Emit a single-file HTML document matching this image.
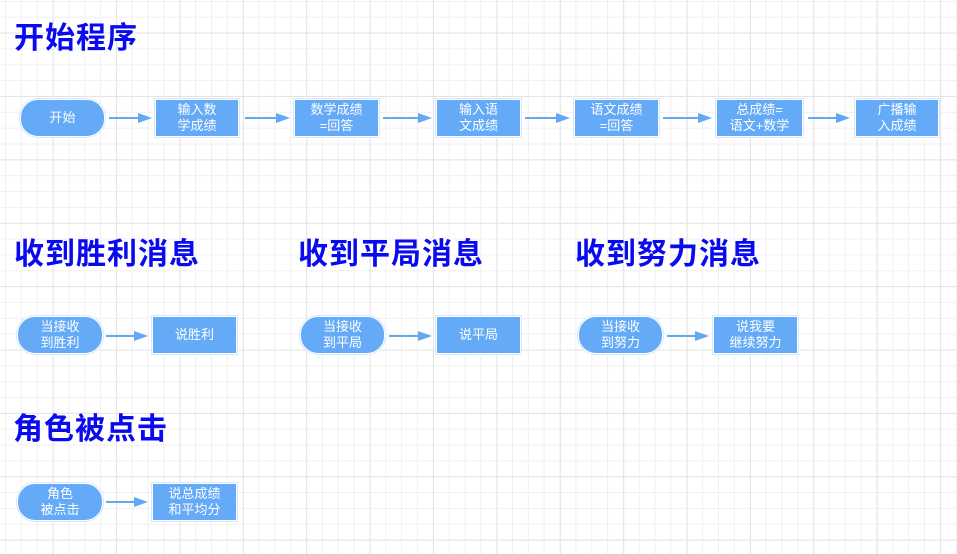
<!DOCTYPE html>
<html><head><meta charset="utf-8"><style>
body{margin:0;width:957px;height:554px;overflow:hidden;position:relative;background-color:#fff;
background-image:linear-gradient(to right,#e4e4e4 1px,transparent 1px),linear-gradient(to bottom,#e4e4e4 1px,transparent 1px),linear-gradient(to right,#f0f0f0 1px,transparent 1px),linear-gradient(to bottom,#f0f0f0 1px,transparent 1px);
background-size:63.4px 63.4px,63.4px 63.4px,15.85px 15.85px,15.85px 15.85px;
background-position:52.7px 0,0 32.6px,5px 0,0 0.9px;
font-family:"Liberation Sans","Noto Sans CJK SC",sans-serif;}
.t{position:absolute;color:#0a0af0;font-weight:bold;font-size:30px;line-height:30px;letter-spacing:1px;white-space:nowrap}
.n{position:absolute;background:#64aaf7;border:1px solid #fff;box-shadow:0 0 0 1px #d8e8fb;color:#fff;font-size:13px;line-height:16px;display:flex;align-items:center;justify-content:center;text-align:center;box-sizing:border-box}
.p{border-radius:18px}
svg{position:absolute;left:0;top:0}
</style></head><body>
<div class="t" style="left:14px;top:24px">开始程序</div>
<div class="t" style="left:14px;top:240px">收到胜利消息</div>
<div class="t" style="left:298px;top:240px">收到平局消息</div>
<div class="t" style="left:575px;top:240px">收到努力消息</div>
<div class="t" style="left:13px;top:415px">角色被点击</div>

<div class="n p" style="left:20px;top:99px;width:85px;height:38px">开始</div>
<div class="n" style="left:155px;top:99px;width:84px;height:38px">输入数<br>学成绩</div>
<div class="n" style="left:294px;top:99px;width:85px;height:38px">数学成绩<br>=回答</div>
<div class="n" style="left:436px;top:99px;width:85px;height:38px">输入语<br>文成绩</div>
<div class="n" style="left:574px;top:99px;width:85px;height:38px">语文成绩<br>=回答</div>
<div class="n" style="left:716px;top:99px;width:87px;height:38px">总成绩=<br>语文+数学</div>
<div class="n" style="left:855px;top:99px;width:84px;height:38px">广播输<br>入成绩</div>

<div class="n p" style="left:17px;top:316px;width:86px;height:38px">当接收<br>到胜利</div>
<div class="n" style="left:152px;top:316px;width:85px;height:38px">说胜利</div>
<div class="n p" style="left:300px;top:316px;width:85px;height:38px">当接收<br>到平局</div>
<div class="n" style="left:436px;top:316px;width:85px;height:38px">说平局</div>
<div class="n p" style="left:578px;top:316px;width:85px;height:38px">当接收<br>到努力</div>
<div class="n" style="left:713px;top:316px;width:85px;height:38px">说我要<br>继续努力</div>

<div class="n p" style="left:17px;top:483px;width:86px;height:38px">角色<br>被点击</div>
<div class="n" style="left:152px;top:483px;width:85px;height:38px">说总成绩<br>和平均分</div>

<svg width="957" height="554">
<g stroke="#64a8f5" stroke-width="2" fill="#64a8f5">
<line x1="109" y1="118" x2="140" y2="118"/><polygon points="138,113 152,118 138,123" stroke="none"/>
<line x1="245" y1="118" x2="278" y2="118"/><polygon points="276,113 290,118 276,123" stroke="none"/>
<line x1="383" y1="118" x2="420" y2="118"/><polygon points="418,113 432,118 418,123" stroke="none"/>
<line x1="525" y1="118" x2="558" y2="118"/><polygon points="556,113 570,118 556,123" stroke="none"/>
<line x1="663" y1="118" x2="700" y2="118"/><polygon points="698,113 712,118 698,123" stroke="none"/>
<line x1="808" y1="118" x2="838" y2="118"/><polygon points="836,113 850,118 836,123" stroke="none"/>
<line x1="106" y1="336" x2="136" y2="336"/><polygon points="134,331 148,336 134,341" stroke="none"/>
<line x1="389" y1="336" x2="420" y2="336"/><polygon points="418,331 432,336 418,341" stroke="none"/>
<line x1="667" y1="336" x2="697" y2="336"/><polygon points="695,331 709,336 695,341" stroke="none"/>
<line x1="106" y1="502" x2="136" y2="502"/><polygon points="134,497 148,502 134,507" stroke="none"/>
</g></svg>
</body></html>
